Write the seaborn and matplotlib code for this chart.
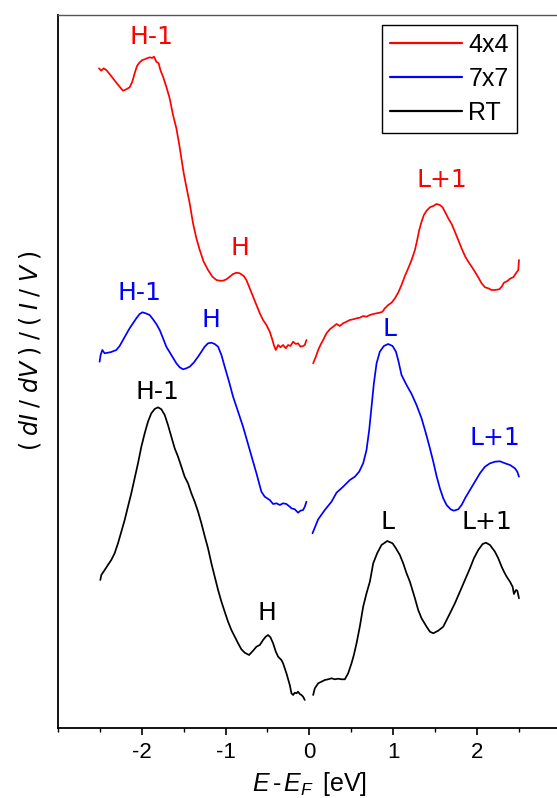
import numpy as np
import pandas as pd
import matplotlib
matplotlib.use("Agg")
import matplotlib.pyplot as plt
from matplotlib.ticker import MultipleLocator
from matplotlib.lines import Line2D
import seaborn as sns

# ---------------- data (arbitrary units) ----------------
# 4x4 (red): occupied side (E<0) and empty side (E>0)
e_4x4_occ = [-2.511, -2.483, -2.455, -2.423, -2.384, -2.344, -2.304, -2.264, -2.224, -2.184,
             -2.145, -2.113, -2.085, -2.057, -2.025, -1.993, -1.965, -1.938, -1.906, -1.878,
             -1.854, -1.826, -1.798, -1.778, -1.746, -1.707, -1.667, -1.627, -1.587, -1.555,
             -1.527, -1.499, -1.468, -1.428, -1.388, -1.348, -1.308, -1.261, -1.209, -1.157,
             -1.109, -1.069, -1.030, -0.990, -0.950, -0.910, -0.870, -0.830, -0.783, -0.751,
             -0.711, -0.671, -0.631, -0.591, -0.552, -0.512, -0.472, -0.440, -0.424, -0.400,
             -0.372, -0.344, -0.313, -0.281, -0.253, -0.225, -0.193, -0.161, -0.134, -0.106,
             -0.074, -0.054, -0.034]
s_4x4_occ = [6.597, 6.573, 6.597, 6.580, 6.540, 6.497, 6.453, 6.413, 6.373, 6.387,
             6.407, 6.463, 6.547, 6.620, 6.657, 6.680, 6.687, 6.697, 6.707, 6.700,
             6.713, 6.663, 6.647, 6.580, 6.513, 6.413, 6.297, 6.130, 5.997, 5.847,
             5.697, 5.547, 5.413, 5.247, 5.047, 4.897, 4.780, 4.663, 4.580, 4.513,
             4.480, 4.473, 4.473, 4.487, 4.513, 4.540, 4.553, 4.547, 4.520, 4.480,
             4.397, 4.313, 4.230, 4.147, 4.080, 4.030, 3.963, 3.880, 3.830, 3.780,
             3.830, 3.807, 3.830, 3.797, 3.830, 3.820, 3.863, 3.840, 3.847, 3.813,
             3.820, 3.830, 3.880]
e_4x4_emp = [0.046, 0.078, 0.106, 0.133, 0.165, 0.205, 0.245, 0.285, 0.325, 0.364,
             0.404, 0.444, 0.484, 0.524, 0.564, 0.603, 0.643, 0.683, 0.723, 0.763,
             0.803, 0.842, 0.874, 0.902, 0.942, 0.982, 1.022, 1.061, 1.101, 1.141,
             1.181, 1.221, 1.261, 1.288, 1.312, 1.340, 1.368, 1.400, 1.440, 1.480,
             1.519, 1.559, 1.591, 1.619, 1.659, 1.699, 1.738, 1.778, 1.818, 1.858,
             1.898, 1.938, 1.977, 2.017, 2.057, 2.097, 2.137, 2.176, 2.216, 2.268,
             2.296, 2.324, 2.364, 2.403, 2.435, 2.467, 2.495, 2.503]
s_4x4_emp = [3.647, 3.713, 3.780, 3.830, 3.880, 3.947, 3.987, 4.013, 4.040, 4.020,
             4.047, 4.063, 4.080, 4.087, 4.097, 4.103, 4.120, 4.113, 4.130, 4.140,
             4.147, 4.153, 4.163, 4.197, 4.230, 4.253, 4.297, 4.353, 4.430, 4.520,
             4.597, 4.680, 4.780, 4.880, 4.980, 5.063, 5.130, 5.173, 5.207, 5.220,
             5.240, 5.230, 5.207, 5.163, 5.097, 5.040, 4.963, 4.880, 4.797, 4.720,
             4.663, 4.613, 4.563, 4.507, 4.447, 4.407, 4.397, 4.380, 4.380, 4.387,
             4.413, 4.453, 4.470, 4.497, 4.507, 4.547, 4.580, 4.680]

# 7x7 (blue)
e_7x7_occ = [-2.503, -2.491, -2.471, -2.443, -2.404, -2.364, -2.304, -2.264, -2.224, -2.184,
             -2.145, -2.105, -2.065, -2.025, -1.993, -1.953, -1.906, -1.866, -1.826, -1.786,
             -1.746, -1.707, -1.647, -1.587, -1.547, -1.507, -1.468, -1.428, -1.380, -1.328,
             -1.288, -1.249, -1.209, -1.169, -1.129, -1.089, -1.049, -1.010, -0.958, -0.910,
             -0.850, -0.791, -0.751, -0.711, -0.671, -0.631, -0.599, -0.572, -0.532, -0.472,
             -0.432, -0.392, -0.352, -0.313, -0.273, -0.233, -0.213, -0.173, -0.134, -0.106,
             -0.074, -0.054, -0.034]
s_7x7_occ = [3.663, 3.730, 3.780, 3.747, 3.753, 3.760, 3.780, 3.820, 3.880, 3.940,
             3.997, 4.047, 4.097, 4.140, 4.157, 4.147, 4.130, 4.087, 4.040, 3.980,
             3.897, 3.813, 3.730, 3.647, 3.607, 3.587, 3.597, 3.613, 3.653, 3.713,
             3.763, 3.813, 3.847, 3.853, 3.840, 3.813, 3.730, 3.613, 3.463, 3.313,
             3.163, 3.013, 2.897, 2.780, 2.663, 2.547, 2.447, 2.363, 2.313, 2.280,
             2.240, 2.247, 2.230, 2.247, 2.240, 2.213, 2.197, 2.187, 2.153, 2.173,
             2.180, 2.213, 2.263]
e_7x7_emp = [0.038, 0.106, 0.185, 0.265, 0.325, 0.404, 0.484, 0.544, 0.595, 0.643,
             0.683, 0.715, 0.743, 0.771, 0.803, 0.842, 0.890, 0.942, 0.994, 1.034,
             1.061, 1.101, 1.161, 1.221, 1.280, 1.340, 1.392, 1.440, 1.480, 1.519,
             1.559, 1.599, 1.639, 1.687, 1.726, 1.778, 1.818, 1.866, 1.918, 1.977,
             2.037, 2.097, 2.157, 2.216, 2.276, 2.336, 2.396, 2.455, 2.483, 2.503]
s_7x7_emp = [1.947, 2.087, 2.180, 2.263, 2.353, 2.413, 2.480, 2.513, 2.563, 2.647,
             2.780, 2.980, 3.213, 3.447, 3.647, 3.763, 3.820, 3.840, 3.820, 3.763,
             3.680, 3.530, 3.430, 3.340, 3.230, 3.097, 2.947, 2.797, 2.663, 2.520,
             2.397, 2.297, 2.230, 2.187, 2.173, 2.187, 2.230, 2.307, 2.380, 2.463,
             2.547, 2.613, 2.647, 2.663, 2.667, 2.647, 2.630, 2.597, 2.563, 2.513]

# RT (black)
e_rt_occ = [-2.495, -2.483, -2.443, -2.404, -2.364, -2.324, -2.284, -2.244, -2.204, -2.165,
            -2.125, -2.085, -2.045, -2.005, -1.965, -1.926, -1.886, -1.846, -1.806, -1.766,
            -1.726, -1.687, -1.647, -1.607, -1.567, -1.527, -1.488, -1.448, -1.408, -1.368,
            -1.328, -1.288, -1.249, -1.209, -1.169, -1.129, -1.089, -1.049, -1.010, -0.970,
            -0.930, -0.890, -0.850, -0.811, -0.771, -0.719, -0.671, -0.631, -0.591, -0.552,
            -0.520, -0.492, -0.464, -0.432, -0.400, -0.372, -0.333, -0.313, -0.273, -0.233,
            -0.213, -0.193, -0.173, -0.153, -0.134, -0.114, -0.094, -0.074, -0.054]
s_rt_occ = [1.480, 1.530, 1.580, 1.630, 1.680, 1.747, 1.847, 1.963, 2.080, 2.213,
            2.347, 2.497, 2.647, 2.813, 2.947, 3.063, 3.147, 3.190, 3.207, 3.187,
            3.130, 3.030, 2.913, 2.797, 2.713, 2.613, 2.513, 2.447, 2.347, 2.263,
            2.163, 2.047, 1.920, 1.797, 1.647, 1.513, 1.380, 1.263, 1.163, 1.063,
            0.980, 0.913, 0.847, 0.787, 0.753, 0.730, 0.773, 0.813, 0.830, 0.880,
            0.913, 0.930, 0.907, 0.847, 0.763, 0.713, 0.680, 0.647, 0.547, 0.430,
            0.347, 0.330, 0.353, 0.347, 0.363, 0.340, 0.330, 0.313, 0.280]
e_rt_emp = [0.046, 0.066, 0.106, 0.145, 0.185, 0.225, 0.265, 0.305, 0.345, 0.384,
            0.424, 0.464, 0.504, 0.532, 0.564, 0.603, 0.643, 0.683, 0.723, 0.763,
            0.810, 0.862, 0.930, 0.994, 1.034, 1.081, 1.121, 1.161, 1.201, 1.261,
            1.300, 1.340, 1.400, 1.440, 1.480, 1.539, 1.599, 1.659, 1.699, 1.738,
            1.798, 1.858, 1.918, 1.965, 2.017, 2.069, 2.109, 2.157, 2.216, 2.256,
            2.296, 2.324, 2.356, 2.396, 2.427, 2.443, 2.467, 2.483, 2.495, 2.503]
s_rt_emp = [0.330, 0.397, 0.447, 0.463, 0.480, 0.487, 0.497, 0.487, 0.493, 0.487,
            0.487, 0.547, 0.647, 0.730, 0.847, 1.013, 1.213, 1.347, 1.463, 1.647,
            1.747, 1.830, 1.870, 1.847, 1.797, 1.730, 1.647, 1.547, 1.463, 1.297,
            1.180, 1.097, 1.013, 0.963, 0.947, 0.973, 1.013, 1.113, 1.180, 1.247,
            1.363, 1.480, 1.597, 1.697, 1.780, 1.840, 1.853, 1.830, 1.763, 1.697,
            1.613, 1.563, 1.513, 1.463, 1.413, 1.340, 1.380, 1.373, 1.330, 1.297]

series_names = ["4x4", "7x7", "RT"]
series_colors = ["#ff0000", "#0000ff", "#000000"]

# peak labels: (series, text, E, y)
peak_series = ["4x4", "4x4", "4x4", "7x7", "7x7", "7x7", "7x7", "RT", "RT", "RT", "RT"]
peak_text = ["H-1", "H", "L+1", "H-1", "H", "L", "L+1", "H-1", "H", "L", "L+1"]
peak_e = [-1.885, -0.83, 1.58, -2.03, -1.17, 0.96, 2.22, -1.81, -0.51, 0.93, 2.12]
peak_y = [6.91, 4.80, 5.48, 4.35, 4.08, 3.99, 2.90, 3.36, 1.15, 2.06, 2.06]

x_ticks = [-2, -1, 0, 1, 2]

# ---------------- build table ----------------
segs = {
    "4x4": [(e_4x4_occ, s_4x4_occ), (e_4x4_emp, s_4x4_emp)],
    "7x7": [(e_7x7_occ, s_7x7_occ), (e_7x7_emp, s_7x7_emp)],
    "RT": [(e_rt_occ, s_rt_occ), (e_rt_emp, s_rt_emp)],
}
rows = []
for name in series_names:
    for k, (ee, ss) in enumerate(segs[name]):
        for e, s in zip(ee, ss):
            rows.append({"E": e, "signal": s, "series": name, "segment": f"{name}_{k}"})
df = pd.DataFrame(rows)

# ---------------- style ----------------
sns.set_style("ticks")
plt.rcParams["font.family"] = ["DejaVu Sans"]
plt.rcParams["mathtext.fontset"] = "custom"
plt.rcParams["mathtext.rm"] = "Liberation Sans"
plt.rcParams["mathtext.it"] = "Liberation Sans:italic"
for key in ["axes.edgecolor", "xtick.color", "ytick.color", "text.color", "axes.labelcolor"]:
    plt.rcParams[key] = "black"

W, H = 557, 798
fig = plt.figure(figsize=(W / 100, H / 100), dpi=100)
ax_left, ax_right, ax_top, ax_bottom = 58, 560.6, 15, 728
ax = fig.add_axes([ax_left / W, 1 - ax_bottom / H, (ax_right - ax_left) / W, (ax_bottom - ax_top) / H])

palette = dict(zip(series_names, series_colors))
sns.lineplot(data=df, x="E", y="signal", hue="series", units="segment", estimator=None,
             palette=palette, hue_order=series_names, sort=False, lw=1.25, ax=ax, legend=False)

ax.set_xlim(-3.0, 3.0)
ax.set_ylim(0.0, 7.13)

for name, txt, e, y in zip(peak_series, peak_text, peak_e, peak_y):
    ax.text(e, y, txt, color=palette[name], fontsize=18, ha="center", va="center",
            family="DejaVu Sans")

# axes styling
ax.set_yticks([])
ax.set_xticks(x_ticks)
ax.xaxis.set_minor_locator(MultipleLocator(0.5))
ax.set_xticklabels([str(t) for t in x_ticks], family="Liberation Sans", fontsize=16)
ax.tick_params(axis="x", which="major", direction="out", length=5, width=1.2, pad=5, color="black",
               labelcolor="black")
ax.tick_params(axis="x", which="minor", direction="out", length=3, width=1.0, color="black")
for side in ["left", "bottom"]:
    ax.spines[side].set_color("black")
    ax.spines[side].set_linewidth(1.3)
ax.spines["top"].set_color("#555555")
ax.spines["top"].set_linewidth(1.0)
ax.spines["right"].set_color("black")

ax.set_xlabel(r"$E\,$-$\,E_{F}\,$ [eV]", fontsize=18, family="Liberation Sans", labelpad=5)
ax.set_ylabel(r"$(\;dI\;/\;dV\;)\;/\;(\;I\;/\;V\;)$", fontsize=17)
ax.yaxis.label.set_math_fontfamily("dejavusans")
ax.yaxis.set_label_coords(-0.030, 0.529)

# legend
handles = [Line2D([], [], color=c, lw=1.6) for c in series_colors]
leg = ax.legend(handles, series_names, loc="upper right",
                bbox_to_anchor=(517 / W, 1 - 25 / H), bbox_transform=fig.transFigure,
                borderaxespad=0, fancybox=False, framealpha=1, edgecolor="black",
                prop={"family": "Liberation Sans", "size": 18}, handlelength=2.9,
                handletextpad=0.25, labelspacing=0.4, borderpad=0.32)
leg.get_frame().set_linewidth(1.0)

fig.savefig("out.png", dpi=100)
